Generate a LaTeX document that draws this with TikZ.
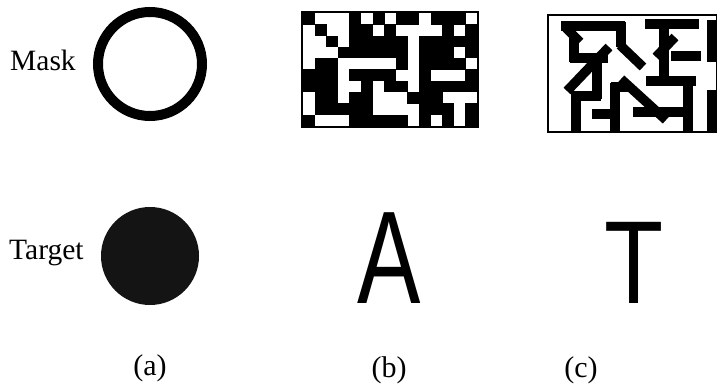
\documentclass[tikz,border=0pt]{standalone}
\usepackage{fontspec}
\setmainfont{Liberation Serif}
\newfontfamily\glyphfont{Liberation Sans}
\begin{document}
\begin{tikzpicture}[x=1pt,y=-1pt,
  lbl/.style={inner sep=0pt,font=\fontsize{29.5}{32}\selectfont},
  caplbl/.style={inner sep=0pt,font=\fontsize{30}{32}\selectfont},
  maze/.style={line width=9.5pt,line cap=butt,line join=miter},
  cellfill/.style={fill=black}]
\useasboundingbox (0,0) rectangle (717,387);
% --- column (a)
\node[lbl,anchor=base west] (mask) at (10,71) {Mask};
\node[lbl,anchor=base west] (target) at (9,260) {Target};
\draw[line width=10pt] (150,64) circle[radius=52];
\fill[black!92] (150,256) circle[radius=49];
% --- column (b): random binary mask
\def\gx{303}\def\gy{13}\def\cw{11.6}\def\ch{11.3}
\foreach \r/\cl in {0/{0,4,6,8,9,11,12,13},
                    1/{1,4,5,7,12,14},
                    2/{2,4,5,6,7,8,10,11,12,13,14},
                    3/{3,4,5,6,7,8,10,11,12,14},
                    4/{1,2,8,10,11,12,13},
                    5/{0,1,2,4,5,6,7,10,14},
                    6/{0,1,2,5,7,8,10,11,12,13,14},
                    7/{1,2,4,5,9,10,11},
                    8/{1,2,3,4,5,10,11,12,14},
                    9/{0,4,5,6,7,8,10,12,14}}{
  \foreach \c in \cl {
    \fill[cellfill] ({\gx+\c*\cw},{\gy+\r*\ch}) rectangle ++({\cw+0.3},{\ch+0.3});
  }
}
\draw[line width=2pt] (302,12) rectangle (478,127);
% --- column (c): maze mask
\draw[line width=1.5pt] (548,15) rectangle (716.5,132);
\draw[maze] (561,26)--(625,26);
\draw[maze] (566,28)--(580,42);
\draw[maze] (574,36)--(574,62);
\draw[maze] (570,58)--(608,58);
\draw[maze] (567,91)--(609,47);
\draw[maze] (597,54)--(597,99);
\draw[maze] (572,96)--(601,96);
\draw[maze] (576,92)--(576,132);
\draw[maze] (592,114)--(614,114);
\draw[maze] (615,83)--(615,132);
\draw[maze] (611,87)--(629,87);
\draw[maze] (621,22)--(621,47);
\draw[maze] (620,45)--(643,67);
\draw[maze] (621,79)--(666,120);
\draw[maze] (645,24)--(699,24);
\draw[maze] (664,20)--(664,84);
\draw[maze] (675,37)--(656,57);
\draw[maze] (671,56)--(701,56);
\draw[maze] (646,81)--(696,81);
\draw[maze] (688,77)--(688,132);
\draw[maze] (633,112)--(692,112);
\draw[maze] (712,20)--(712,62);
\draw[maze] (712,90)--(712,132);
% --- targets
\node[inner sep=0pt,anchor=base] (letA) at (389,303)
  {\scalebox{0.72}[1]{\glyphfont\fontsize{132}{132}\selectfont A}};
\node[inner sep=0pt,anchor=base] (letT) at (634,303)
  {\scalebox{0.82}[1]{\glyphfont\fontsize{118}{118}\selectfont T}};
% --- captions
\node[caplbl,anchor=base] (capa) at (150,375) {(a)};
\node[caplbl,anchor=base] (capb) at (389,377) {(b)};
\node[caplbl,anchor=base] (capc) at (581,377) {(c)};
\end{tikzpicture}
\end{document}
